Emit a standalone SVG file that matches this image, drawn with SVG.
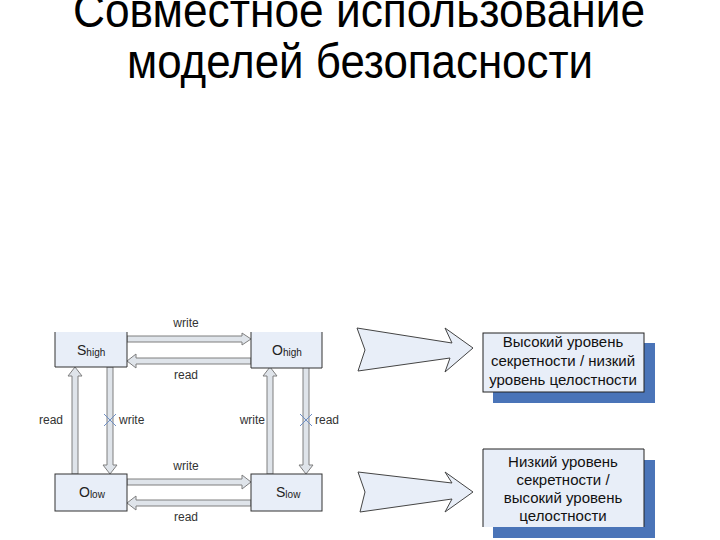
<svg xmlns="http://www.w3.org/2000/svg" width="720" height="540" viewBox="0 0 720 540">
<defs>
<style>
.title{font-family:"Liberation Sans",Arial,sans-serif;font-size:48px;fill:#000;text-anchor:middle}
.node{fill:#e8eef8}
.nb{fill:none;stroke:#333;stroke-width:1}
.nt{font-family:"Liberation Sans",Arial,sans-serif;font-size:14px;fill:#222}
.sub{font-size:10px}
.conn{fill:#dfe4ea;stroke:#7f7f7f;stroke-width:1;stroke-linejoin:miter}
.lbl{font-family:"Liberation Sans",Arial,sans-serif;font-size:12px;fill:#333}
.x{stroke:#6f8fc4;stroke-width:1}
.big{fill:#e8eef8;stroke:#444;stroke-width:1;stroke-linejoin:miter}
.shadow{fill:#4a74b8}
.box{fill:#e8eef8}
.border{fill:none;stroke:#222;stroke-width:1}
.bt{font-family:"Liberation Sans",Arial,sans-serif;font-size:15px;fill:#111;text-anchor:middle}
</style>
</defs>
<rect width="720" height="540" fill="#fff"/>
<g id="title">
<text class="title" x="359" y="27" textLength="572" lengthAdjust="spacingAndGlyphs">Совместное использование</text>
<text class="title" x="360" y="78" textLength="466" lengthAdjust="spacingAndGlyphs">моделей безопасности</text>
</g>
<g id="connectors">
<polygon class="conn" points="127,336 242,336 242,333 251,339 242,345 242,342 127,342"/>
<polygon class="conn" points="251,358 136,358 136,354 127,361 136,368 136,364 251,364"/>
<polygon class="conn" points="127,479 242,479 242,475 251,482 242,489 242,485 127,485"/>
<polygon class="conn" points="251,500 136,500 136,496 127,503 136,510 136,506 251,506"/>
<polygon class="conn" points="72,474 72,376 68,376 75,367 82,376 78,376 78,474"/>
<polygon class="conn" points="107,367 107,465 103,465 110,474 117,465 113,465 113,367"/>
<polygon class="conn" points="267,474 267,376 263,376 270,367 277,376 273,376 273,474"/>
<polygon class="conn" points="303,367 303,465 299,465 306,474 313,465 309,465 309,367"/>
<path class="x" d="M104,414 L116,426 M116,414 L104,426"/>
<path class="x" d="M300,414 L312,426 M312,414 L300,426"/>
<text class="lbl" x="186" y="327" text-anchor="middle">write</text>
<text class="lbl" x="186" y="379" text-anchor="middle">read</text>
<text class="lbl" x="186" y="470" text-anchor="middle">write</text>
<text class="lbl" x="186" y="521" text-anchor="middle">read</text>
<text class="lbl" x="63" y="424" text-anchor="end">read</text>
<text class="lbl" x="119" y="424">write</text>
<text class="lbl" x="265" y="424" text-anchor="end">write</text>
<text class="lbl" x="315" y="424">read</text>
</g>
<g id="s-high">
<rect class="node" x="55" y="332" width="72" height="35"/>
<path class="nb" d="M55,332 L55,367 L127,367 L127,332"/>
<text class="nt" x="77" y="355">S<tspan class="sub" dy="1">high</tspan></text>
</g>
<g id="o-high">
<rect class="node" x="251" y="332" width="71" height="36"/>
<path class="nb" d="M251,332 L251,368 L322,368 L322,332"/>
<text class="nt" x="272" y="355">O<tspan class="sub" dy="1">high</tspan></text>
</g>
<g id="o-low">
<rect class="node nb" x="55" y="474" width="72" height="37" style="fill:#e8eef8"/>
<text class="nt" x="79" y="497">O<tspan class="sub" dy="1">low</tspan></text>
</g>
<g id="s-low">
<rect class="node nb" x="251" y="474" width="71" height="37" style="fill:#e8eef8"/>
<text class="nt" x="276" y="497">S<tspan class="sub" dy="1">low</tspan></text>
</g>
<g id="arrow-top">
<polygon class="big" points="357,328 452,343 445,328 473,348 445,372 450,358 358,371 365,350"/>
</g>
<g id="arrow-bottom">
<polygon class="big" points="358,472 452,483 445,472 473,492 445,512 452,499 360,512 365,492"/>
</g>
<g id="box-high">
<rect class="shadow" x="493" y="343" width="162" height="60"/>
<rect class="box" x="483" y="333" width="161" height="59"/>
<rect class="border" x="483" y="333" width="161" height="59"/>
<text class="bt" x="563" y="347">Высокий уровень</text>
<text class="bt" x="563" y="366">секретности / низкий</text>
<text class="bt" x="563" y="385">уровень целостности</text>
</g>
<g id="box-low">
<rect class="shadow" x="493" y="460" width="162" height="78"/>
<rect class="box" x="483" y="449" width="161" height="78"/>
<path class="border" d="M483,527 L483,449 L644,449 L644,527"/>
<text class="bt" x="563" y="467">Низкий уровень</text>
<text class="bt" x="563" y="485">секретности /</text>
<text class="bt" x="563" y="503">высокий уровень</text>
<text class="bt" x="563" y="521">целостности</text>
</g>
</svg>
